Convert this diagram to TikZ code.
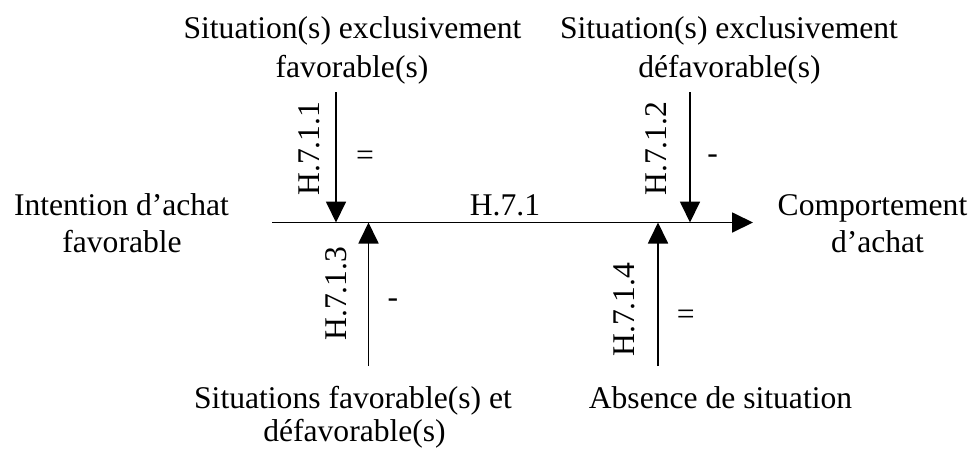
\documentclass[tikz,border=0pt]{standalone}
\usepackage{fontspec}
\setmainfont{Liberation Serif}
\usetikzlibrary{arrows.meta}
\begin{document}
\begin{tikzpicture}[x=1pt,y=-1pt,
  lbl/.style={inner sep=0pt,outer sep=0pt,font=\fontsize{31.6}{38}\selectfont,anchor=base},
  rlbl/.style={lbl,rotate=90},
  sgn/.style={inner sep=0pt,outer sep=0pt,font=\fontsize{31.6}{38}\selectfont,anchor=center},
  arr/.style={line width=1.8pt,-{Triangle[length=21pt,width=20pt]}}]
\useasboundingbox (0,0) rectangle (973,448);
% texts
\node[lbl] (tl1) at (352.5,38) {Situation(s) exclusivement};
\node[lbl] (tl2) at (352,77) {favorable(s)};
\node[lbl] (tr1) at (729,38) {Situation(s) exclusivement};
\node[lbl] (tr2) at (729.5,77) {défavorable(s)};
\node[lbl] (l1) at (121.5,215) {Intention d’achat};
\node[lbl] (l2) at (122,252) {favorable};
\node[lbl] (r1) at (872.5,215) {Comportement};
\node[lbl] (r2) at (877.5,252) {d’achat};
\node[lbl] (bl1) at (353,408) {Situations favorable(s) et};
\node[lbl] (bl2) at (354.5,441) {défavorable(s)};
\node[lbl] (br1) at (720.5,408) {Absence de situation};
% connector coordinates
\coordinate (hs) at (272,222.5);
\coordinate (he) at (753,222.5);
\coordinate (d1s) at (336,92);
\coordinate (d1e) at (336,222.5);
\coordinate (d2s) at (690,92);
\coordinate (d2e) at (690,222.5);
\coordinate (u3s) at (368.5,366);
\coordinate (u3e) at (368.5,222.5);
\coordinate (u4s) at (658,366);
\coordinate (u4e) at (658,222.5);
% connectors
\draw[arr] (hs) -- (he);
\draw[arr] (d1s) -- (d1e);
\draw[arr] (d2s) -- (d2e);
\draw[arr] (u3s) -- (u3e);
\draw[arr] (u4s) -- (u4e);
% labels
\node[lbl] (h71) at (505,215) {H.7.1};
\node[rlbl] (h711) at (319,148.6) {H.7.1.1};
\node[rlbl] (h712) at (666,148.6) {H.7.1.2};
\node[rlbl] (h713) at (346,293.6) {H.7.1.3};
\node[rlbl] (h714) at (634,309.6) {H.7.1.4};
\node[sgn] (s1) at (365,158.5) {=};
\node[sgn] (s2) at (712.5,159.5) {-};
\node[sgn] (s3) at (393,303.3) {-};
\node[sgn] (s4) at (685.7,317.3) {=};
\end{tikzpicture}
\end{document}
